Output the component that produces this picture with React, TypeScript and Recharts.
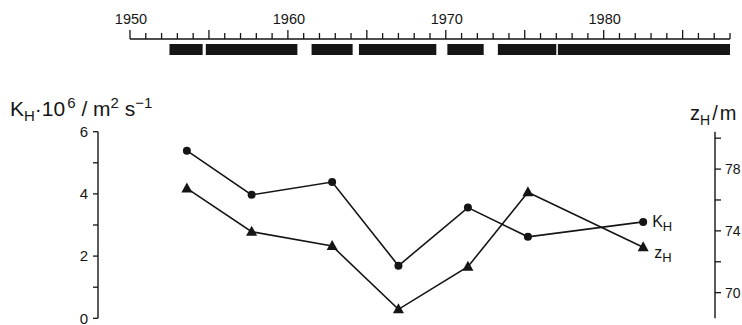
import React from "react";
import { ComposedChart, LineChart, Line, Bar, XAxis, YAxis, LabelList } from "recharts";

const periodStart = [1952.5, 1954.8, 1961.5, 1964.5, 1970.1, 1973.3, 1977.1];
const periodEnd = [1954.6, 1960.6, 1964.1, 1969.4, 1972.4, 1977.0, 1988.0];

// one value per period, plotted at the middle of it
const obsYear = [1953.6, 1957.7, 1962.8, 1967.0, 1971.4, 1975.2, 1982.5];
const kValues = [5.39, 3.97, 4.38, 1.69, 3.56, 2.62, 3.1];
const zValues = [76.75, 73.95, 73.02, 68.92, 71.68, 76.5, 72.94];

const yearTicks = Array.from({ length: 39 }, (_, i) => 1950 + i);
const kTicks = [0, 1, 2, 3, 4, 5, 6];
const zTicks = [70, 72, 74, 76, 78, 80];

const FONT = '"Liberation Sans", Arial, sans-serif';
const INK = "#151515";

const rows = obsYear.map((year, i) => ({ year, k: kValues[i], z: zValues[i] }));

// the strip is one stacked bar: gap, period, gap, period, ...
const stripRow: Record<string, any> = { row: "obs" };
periodStart.forEach((s, i) => {
  stripRow[`gap${i}`] = s - (i === 0 ? 0 : periodEnd[i - 1]);
  stripRow[`per${i}`] = periodEnd[i] - s;
});

const YearTick = (props: any) => {
  const { x, y, payload } = props;
  const v = payload.value;
  const len = v % 5 === 0 ? 9 : 6;
  return (
    <g>
      <line x1={x} y1={y} x2={x} y2={y - len} stroke={INK} strokeWidth={1.3} />
      {v % 10 === 0 && (
        <text x={x + 1} y={y - 15} textAnchor="middle" fontSize={14.5} fontFamily={FONT} fill={INK}>
          {v}
        </text>
      )}
    </g>
  );
};

const PeriodBar = (p: any) =>
  p.width > 0 ? (
    <rect x={p.x} y={p.y + 5} width={p.width} height={Math.max(0, p.height - 5)} fill={INK} />
  ) : (
    <g />
  );

const Triangle = (props: any) => {
  const { cx, cy, index } = props;
  if (cx == null || cy == null) return <g key={index} />;
  return (
    <path
      key={index}
      d={`M${cx},${cy - 6} L${cx + 5.5},${cy + 4} L${cx - 5.5},${cy + 4} Z`}
      fill={INK}
    />
  );
};

const endLabel = (name: string, dx: number, dy: number) => (props: any) => {
  const { x, y, index } = props;
  if (index !== rows.length - 1) return null;
  return (
    <text x={x + dx} y={y + dy} fontSize={16} fontFamily={FONT} fill={INK}>
      {name}
      <tspan fontSize={13} dy={4}>H</tspan>
    </text>
  );
};

export default function App() {
  return (
    <div
      style={{ position: "absolute", left: 0, top: 0, width: 742, height: 325, background: "#fff" }}
    >
      <div style={{ position: "absolute", left: 0, top: 0 }}>
        <ComposedChart
          width={742}
          height={60}
          layout="vertical"
          data={[stripRow]}
          barCategoryGap={0}
          margin={{ top: 0, right: 12, bottom: 5, left: 130 }}
        >
          <XAxis
            type="number"
            orientation="top"
            domain={[1950, 1988]}
            ticks={yearTicks}
            interval={0}
            height={39}
            tickSize={0}
            tickMargin={0}
            tickLine={false}
            axisLine={{ stroke: INK, strokeWidth: 1.4 }}
            tick={<YearTick />}
            allowDataOverflow
          />
          <YAxis type="category" dataKey="row" hide width={0} />
          {periodStart.map((_, i) => [
            <Bar
              key={`g${i}`}
              dataKey={`gap${i}`}
              stackId="strip"
              fill="none"
              shape={<g />}
              isAnimationActive={false}
            />,
            <Bar
              key={`p${i}`}
              dataKey={`per${i}`}
              stackId="strip"
              fill={INK}
              shape={PeriodBar}
              isAnimationActive={false}
            />,
          ])}
        </ComposedChart>
      </div>

      <div style={{ position: "absolute", left: 0, top: 0 }}>
        <LineChart
          width={742}
          height={325}
          data={rows}
          margin={{ top: 131.7, right: 0, bottom: 6.7, left: 68 }}
        >
          <text x={10} y={116} fontSize={21} fontFamily={FONT} fill={INK}>
            K<tspan fontSize={15} dy={5}>H</tspan>
            <tspan dy={-5}>·10</tspan>
            <tspan fontSize={15} dy={-8} dx={2}>6</tspan>
            <tspan dy={8}> / m</tspan>
            <tspan fontSize={15} dy={-8}>2</tspan>
            <tspan dy={8}> s</tspan>
            <tspan fontSize={15} dy={-8}>−1</tspan>
          </text>
          <text x={690} y={120} fontSize={20} fontFamily={FONT} fill={INK}>
            z<tspan fontSize={14} dy={5}>H</tspan>
            <tspan dy={-5} dx={2}>/</tspan>
            <tspan dx={2}>m</tspan>
          </text>
          <XAxis hide type="number" dataKey="year" domain={[1947.97, 1987.05]} allowDataOverflow />
          <YAxis
            yAxisId="k"
            orientation="left"
            width={30}
            type="number"
            domain={[0, 6]}
            ticks={kTicks}
            interval={0}
            tickSize={5}
            tickMargin={5}
            tickFormatter={(v: number) => (v % 2 === 0 ? String(v) : "")}
            tick={{ fill: INK, fontSize: 15, fontFamily: FONT }}
            tickLine={{ stroke: INK, strokeWidth: 1.3 }}
            axisLine={{ stroke: INK, strokeWidth: 1.4 }}
          />
          <YAxis
            yAxisId="z"
            orientation="right"
            width={27}
            type="number"
            domain={[68.34, 80.42]}
            ticks={zTicks}
            interval={0}
            tickSize={6}
            tickMargin={4}
            tickFormatter={(v: number) => (v % 4 === 2 ? String(v) : "")}
            tick={{ fill: INK, fontSize: 14, fontFamily: FONT, textAnchor: "start" }}
            tickLine={{ stroke: INK, strokeWidth: 1.3 }}
            axisLine={{ stroke: INK, strokeWidth: 1.4 }}
            allowDataOverflow
          />
          <Line
            yAxisId="k"
            dataKey="k"
            stroke={INK}
            strokeWidth={1.6}
            dot={{ r: 4, fill: INK, stroke: INK, strokeWidth: 0 }}
            isAnimationActive={false}
          >
            <LabelList content={endLabel("K", 9, 5)} />
          </Line>
          <Line
            yAxisId="z"
            dataKey="z"
            stroke={INK}
            strokeWidth={1.6}
            dot={<Triangle />}
            isAnimationActive={false}
          >
            <LabelList content={endLabel("z", 11, 11)} />
          </Line>
        </LineChart>
      </div>
    </div>
  );
}
